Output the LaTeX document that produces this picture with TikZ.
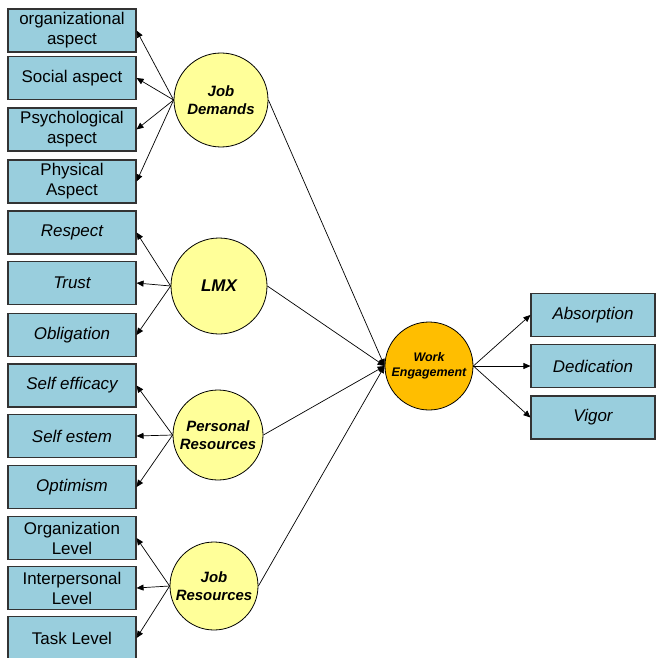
\documentclass[tikz,border=0pt]{standalone}
\usepackage{fontspec}
\setmainfont{Liberation Sans}
\usepackage{tikz}
\usetikzlibrary{arrows.meta, positioning, calc}
\definecolor{boxblue}{RGB}{153, 206, 221}
\definecolor{latentyellow}{RGB}{255, 255, 153}
\definecolor{engageorange}{RGB}{255, 190, 0}

\begin{document}
\begin{tikzpicture}[x=1bp, y=-1bp,
		indicator/.style={draw=black!80, line width=1.1bp, fill=boxblue, minimum width=128bp, minimum height=43bp, inner sep=0pt, align=center, font=\fontsize{17}{20}\selectfont},
		latent/.style={circle, draw=black, line width=0.8bp, fill=latentyellow, inner sep=0pt, align=center, font=\fontsize{15}{18}\selectfont\bfseries\itshape},
		link/.style={-{Triangle[length=7bp,width=6bp]}, line width=0.7bp}]
			\useasboundingbox (0,0) rectangle (656,658);

			% Indicator boxes on the left
			\foreach \name/\ypos/\txt in {org/30.5/organizational\\aspect, soc/78/Social aspect, psy/129.5/Psychological\\aspect, phy/181.5/Physical\\Aspect,
				res/232.5/\itshape Respect, tru/283/\itshape Trust, obl/335/\itshape Obligation,
				eff/385.5/\itshape Self efficacy, est/436/\itshape Self estem, opt/487/\itshape Optimism,
				orl/538/Organization\\Level, inl/588/Interpersonal\\Level, tsk/638/Task Level}
				\node[indicator] (\name) at (72,\ypos) {\txt};

			% Latent variables
			\node[latent, minimum size=94bp] (jd) at (221,100) {Job\\Demands};
			\node[latent, minimum size=96bp, font=\fontsize{17}{20}\selectfont\bfseries\itshape] (lmx) at (219,286) {LMX};
			\node[latent, minimum size=90bp] (pr) at (218,435) {Personal\\Resources};
			\node[latent, minimum size=88bp] (jr) at (214,586) {Job\\Resources};
			\node[latent, fill=engageorange, minimum size=88bp, font=\fontsize{12.5}{15}\selectfont\bfseries\itshape] (we) at (429,366) {Work\\Engagement};

			% Engagement dimensions on the right
			\foreach \name/\ypos/\txt in {abs/315/Absorption, ded/366/Dedication, vig/417.5/Vigor}
				\node[indicator, minimum width=124bp, font=\fontsize{17}{20}\selectfont\itshape] (\name) at (593,\ypos) {\txt};

			% Arrows
			\foreach \src/\dst in {jd/org, jd/soc, jd/psy, jd/phy, lmx/res, lmx/tru, lmx/obl, pr/eff, pr/est, pr/opt, jr/orl, jr/inl, jr/tsk}
				\draw[link] (\src.west) -- (\dst.east);
			\foreach \src in {jd, lmx, pr, jr}
				\draw[link] (\src.east) -- (we.west);
			\foreach \dst in {abs, ded, vig}
				\draw[link] (we.east) -- (\dst.west);

		\end{tikzpicture}
\end{document}
